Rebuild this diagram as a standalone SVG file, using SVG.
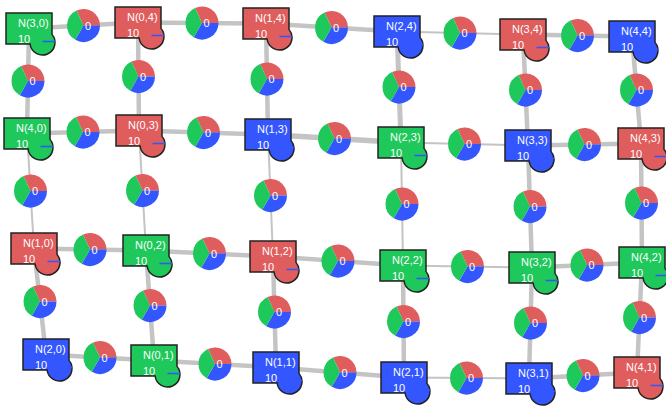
<svg xmlns="http://www.w3.org/2000/svg" xmlns:xlink="http://www.w3.org/1999/xlink" width="666" height="407" viewBox="0 0 666 407">
<style>
.e{stroke:#c4c4c4;stroke-linecap:butt;fill:none}
.w{stroke-width:4.5}
.t{stroke-width:2}
.sh{stroke:#222;stroke-width:1.5}
.r{fill:#E05D5D}
.g{fill:#1EC85A}
.b{fill:#3356FF}
.bar{stroke:#3356FF;stroke-width:1.5}
text{font-family:"Liberation Sans",Arial,sans-serif;font-size:11px;fill:#fff}
</style>
<defs>
<path id="ns" d="M0,0H46V21.38A12.5,12.5 0 1 1 24.09,31H0Z"/>
<g id="pie">
<path class="r" d="M0,0L-6.97,-14.95A16.5,16.5 0 0 1 16.5,0Z"/>
<path class="b" d="M0,0L16.5,0A16.5,16.5 0 0 1 -8.25,14.29Z"/>
<path class="g" d="M0,0L-8.25,14.29A16.5,16.5 0 0 1 -6.97,-14.95Z"/>
<text x="1.5" y="4">0</text>
</g>
</defs>
<g id="edges">
<line class="e w" x1="29" y1="28.5" x2="138" y2="22.5"/>
<line class="e w" x1="138" y1="22.5" x2="266" y2="23.5"/>
<line class="e w" x1="266" y1="23.5" x2="397" y2="31.5"/>
<line class="e t" x1="397" y1="31.5" x2="523" y2="34.5"/>
<line class="e w" x1="523" y1="34.5" x2="632" y2="36.5"/>
<line class="e w" x1="27" y1="133.5" x2="139" y2="130.5"/>
<line class="e w" x1="139" y1="130.5" x2="268" y2="134.5"/>
<line class="e" stroke-width="5.5" x1="268" y1="134.5" x2="401" y2="142.5"/>
<line class="e t" x1="401" y1="142.5" x2="528" y2="145.5"/>
<line class="e w" x1="528" y1="145.5" x2="641" y2="143.5"/>
<line class="e w" x1="34" y1="248.5" x2="146" y2="250.5"/>
<line class="e w" x1="146" y1="250.5" x2="273" y2="256.5"/>
<line class="e w" x1="273" y1="256.5" x2="403" y2="265.5"/>
<line class="e t" x1="403" y1="265.5" x2="532" y2="267.5"/>
<line class="e w" x1="532" y1="267.5" x2="642" y2="262.5"/>
<line class="e w" x1="46" y1="354.5" x2="154" y2="360.5"/>
<line class="e w" x1="154" y1="360.5" x2="276" y2="367.5"/>
<line class="e w" x1="276" y1="367.5" x2="404" y2="377.5"/>
<line class="e t" x1="404" y1="377.5" x2="529" y2="378.5"/>
<line class="e w" x1="529" y1="378.5" x2="637" y2="372.5"/>
<line class="e w" x1="29" y1="28.5" x2="27" y2="133.5"/>
<line class="e w" x1="138" y1="22.5" x2="139" y2="130.5"/>
<line class="e w" x1="266" y1="23.5" x2="268" y2="134.5"/>
<line class="e" stroke-width="5" x1="397" y1="31.5" x2="401" y2="142.5"/>
<line class="e w" x1="523" y1="34.5" x2="528" y2="145.5"/>
<line class="e w" x1="632" y1="36.5" x2="641" y2="143.5"/>
<line class="e t" x1="27" y1="133.5" x2="34" y2="248.5"/>
<line class="e t" x1="139" y1="130.5" x2="146" y2="250.5"/>
<line class="e t" x1="268" y1="134.5" x2="273" y2="256.5"/>
<line class="e t" x1="401" y1="142.5" x2="403" y2="265.5"/>
<line class="e w" x1="528" y1="145.5" x2="532" y2="267.5"/>
<line class="e w" x1="641" y1="143.5" x2="642" y2="262.5"/>
<line class="e w" x1="34" y1="248.5" x2="46" y2="354.5"/>
<line class="e w" x1="146" y1="250.5" x2="154" y2="360.5"/>
<line class="e w" x1="273" y1="256.5" x2="276" y2="367.5"/>
<line class="e w" x1="403" y1="265.5" x2="404" y2="377.5"/>
<line class="e w" x1="532" y1="267.5" x2="529" y2="378.5"/>
<line class="e w" x1="642" y1="262.5" x2="637" y2="372.5"/>
</g>
<g id="pies">
<use xlink:href="#pie" transform="translate(83.5,25.5)"/>
<use xlink:href="#pie" transform="translate(202,23)"/>
<use xlink:href="#pie" transform="translate(331.5,27.5)"/>
<use xlink:href="#pie" transform="translate(460,33)"/>
<use xlink:href="#pie" transform="translate(577.5,35.5)"/>
<use xlink:href="#pie" transform="translate(83,132)"/>
<use xlink:href="#pie" transform="translate(203.5,132.5)"/>
<use xlink:href="#pie" transform="translate(334.5,138.5)"/>
<use xlink:href="#pie" transform="translate(464.5,144)"/>
<use xlink:href="#pie" transform="translate(584.5,144.5)"/>
<use xlink:href="#pie" transform="translate(90,249.5)"/>
<use xlink:href="#pie" transform="translate(209.5,253.5)"/>
<use xlink:href="#pie" transform="translate(338,261)"/>
<use xlink:href="#pie" transform="translate(467.5,266.5)"/>
<use xlink:href="#pie" transform="translate(587,265)"/>
<use xlink:href="#pie" transform="translate(100,357.5)"/>
<use xlink:href="#pie" transform="translate(215,364)"/>
<use xlink:href="#pie" transform="translate(340,372.5)"/>
<use xlink:href="#pie" transform="translate(466.5,378)"/>
<use xlink:href="#pie" transform="translate(583,375.5)"/>
<use xlink:href="#pie" transform="translate(28,81)"/>
<use xlink:href="#pie" transform="translate(138.5,76.5)"/>
<use xlink:href="#pie" transform="translate(267,79)"/>
<use xlink:href="#pie" transform="translate(399,87)"/>
<use xlink:href="#pie" transform="translate(525.5,90)"/>
<use xlink:href="#pie" transform="translate(636.5,90)"/>
<use xlink:href="#pie" transform="translate(30.5,191)"/>
<use xlink:href="#pie" transform="translate(142.5,190.5)"/>
<use xlink:href="#pie" transform="translate(270.5,195.5)"/>
<use xlink:href="#pie" transform="translate(402,204)"/>
<use xlink:href="#pie" transform="translate(530,206.5)"/>
<use xlink:href="#pie" transform="translate(641.5,203)"/>
<use xlink:href="#pie" transform="translate(40,301.5)"/>
<use xlink:href="#pie" transform="translate(150,305.5)"/>
<use xlink:href="#pie" transform="translate(274.5,312)"/>
<use xlink:href="#pie" transform="translate(403.5,321.5)"/>
<use xlink:href="#pie" transform="translate(530.5,323)"/>
<use xlink:href="#pie" transform="translate(639.5,317.5)"/>
</g>
<g id="n30" transform="translate(6,13)"><use xlink:href="#ns" class="sh g"/><line class="bar" x1="36.5" y1="28.5" x2="49" y2="28.5"/><text x="12" y="14">N(3,0)</text><text x="12" y="29.5">10</text></g>
<g id="n04" transform="translate(115,7)"><use xlink:href="#ns" class="sh r"/><line class="bar" x1="36.5" y1="28.5" x2="49" y2="28.5"/><text x="12" y="14">N(0,4)</text><text x="12" y="29.5">10</text></g>
<g id="n14" transform="translate(243,8)"><use xlink:href="#ns" class="sh r"/><line class="bar" x1="36.5" y1="28.5" x2="49" y2="28.5"/><text x="12" y="14">N(1,4)</text><text x="12" y="29.5">10</text></g>
<g id="n24" transform="translate(374,16)"><use xlink:href="#ns" class="sh b"/><line class="bar" x1="36.5" y1="28.5" x2="49" y2="28.5"/><text x="12" y="14">N(2,4)</text><text x="12" y="29.5">10</text></g>
<g id="n34" transform="translate(500,19)"><use xlink:href="#ns" class="sh r"/><line class="bar" x1="36.5" y1="28.5" x2="49" y2="28.5"/><text x="12" y="14">N(3,4)</text><text x="12" y="29.5">10</text></g>
<g id="n44" transform="translate(609,21)"><use xlink:href="#ns" class="sh b"/><line class="bar" x1="36.5" y1="28.5" x2="49" y2="28.5"/><text x="12" y="14">N(4,4)</text><text x="12" y="29.5">10</text></g>
<g id="n40" transform="translate(4,118)"><use xlink:href="#ns" class="sh g"/><line class="bar" x1="36.5" y1="28.5" x2="49" y2="28.5"/><text x="12" y="14">N(4,0)</text><text x="12" y="29.5">10</text></g>
<g id="n03" transform="translate(116,115)"><use xlink:href="#ns" class="sh r"/><line class="bar" x1="36.5" y1="28.5" x2="49" y2="28.5"/><text x="12" y="14">N(0,3)</text><text x="12" y="29.5">10</text></g>
<g id="n13" transform="translate(245,119)"><use xlink:href="#ns" class="sh b"/><line class="bar" x1="36.5" y1="28.5" x2="49" y2="28.5"/><text x="12" y="14">N(1,3)</text><text x="12" y="29.5">10</text></g>
<g id="n23" transform="translate(378,127)"><use xlink:href="#ns" class="sh g"/><line class="bar" x1="36.5" y1="28.5" x2="49" y2="28.5"/><text x="12" y="14">N(2,3)</text><text x="12" y="29.5">10</text></g>
<g id="n33" transform="translate(505,130)"><use xlink:href="#ns" class="sh b"/><line class="bar" x1="36.5" y1="28.5" x2="49" y2="28.5"/><text x="12" y="14">N(3,3)</text><text x="12" y="29.5">10</text></g>
<g id="n43" transform="translate(618,128)"><use xlink:href="#ns" class="sh r"/><line class="bar" x1="36.5" y1="28.5" x2="49" y2="28.5"/><text x="12" y="14">N(4,3)</text><text x="12" y="29.5">10</text></g>
<g id="n10" transform="translate(11,233)"><use xlink:href="#ns" class="sh r"/><line class="bar" x1="36.5" y1="28.5" x2="49" y2="28.5"/><text x="12" y="14">N(1,0)</text><text x="12" y="29.5">10</text></g>
<g id="n02" transform="translate(123,235)"><use xlink:href="#ns" class="sh g"/><line class="bar" x1="36.5" y1="28.5" x2="49" y2="28.5"/><text x="12" y="14">N(0,2)</text><text x="12" y="29.5">10</text></g>
<g id="n12" transform="translate(250,241)"><use xlink:href="#ns" class="sh r"/><line class="bar" x1="36.5" y1="28.5" x2="49" y2="28.5"/><text x="12" y="14">N(1,2)</text><text x="12" y="29.5">10</text></g>
<g id="n22" transform="translate(380,250)"><use xlink:href="#ns" class="sh g"/><line class="bar" x1="36.5" y1="28.5" x2="49" y2="28.5"/><text x="12" y="14">N(2,2)</text><text x="12" y="29.5">10</text></g>
<g id="n32" transform="translate(509,252)"><use xlink:href="#ns" class="sh g"/><line class="bar" x1="36.5" y1="28.5" x2="49" y2="28.5"/><text x="12" y="14">N(3,2)</text><text x="12" y="29.5">10</text></g>
<g id="n42" transform="translate(619,247)"><use xlink:href="#ns" class="sh g"/><line class="bar" x1="36.5" y1="28.5" x2="49" y2="28.5"/><text x="12" y="14">N(4,2)</text><text x="12" y="29.5">10</text></g>
<g id="n20" transform="translate(23,339)"><use xlink:href="#ns" class="sh b"/><line class="bar" x1="36.5" y1="28.5" x2="49" y2="28.5"/><text x="12" y="14">N(2,0)</text><text x="12" y="29.5">10</text></g>
<g id="n01" transform="translate(131,345)"><use xlink:href="#ns" class="sh g"/><line class="bar" x1="36.5" y1="28.5" x2="49" y2="28.5"/><text x="12" y="14">N(0,1)</text><text x="12" y="29.5">10</text></g>
<g id="n11" transform="translate(253,352)"><use xlink:href="#ns" class="sh b"/><line class="bar" x1="36.5" y1="28.5" x2="49" y2="28.5"/><text x="12" y="14">N(1,1)</text><text x="12" y="29.5">10</text></g>
<g id="n21" transform="translate(381,362)"><use xlink:href="#ns" class="sh b"/><line class="bar" x1="36.5" y1="28.5" x2="49" y2="28.5"/><text x="12" y="14">N(2,1)</text><text x="12" y="29.5">10</text></g>
<g id="n31" transform="translate(506,363)"><use xlink:href="#ns" class="sh b"/><line class="bar" x1="36.5" y1="28.5" x2="49" y2="28.5"/><text x="12" y="14">N(3,1)</text><text x="12" y="29.5">10</text></g>
<g id="n41" transform="translate(614,357)"><use xlink:href="#ns" class="sh r"/><line class="bar" x1="36.5" y1="28.5" x2="49" y2="28.5"/><text x="12" y="14">N(4,1)</text><text x="12" y="29.5">10</text></g>
</svg>
